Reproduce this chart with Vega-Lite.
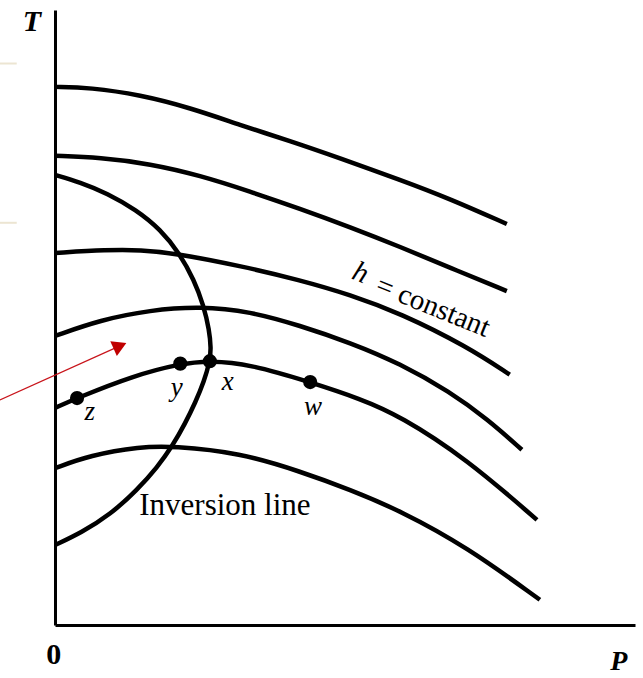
{
  "$schema": "https://vega.github.io/schema/vega-lite/v6.json",
  "width": 580,
  "height": 615,
  "autosize": {"type": "none"},
  "padding": {"left": 55, "top": 10, "right": 8, "bottom": 53},
  "background": "white",
  "config": {
    "view": {"stroke": null},
    "axis": {"domainColor": "black", "domainWidth": 3, "ticks": false, "labels": false, "grid": false, "title": null}
  },
  "datasets": {
    "isenthalps": [
      {"c": "h1", "i": 0, "P": 0, "T": 8.75}, {"c": "h1", "i": 1, "P": 0.6, "T": 8.74}, {"c": "h1", "i": 2, "P": 1.47, "T": 8.62},
      {"c": "h1", "i": 3, "P": 2.33, "T": 8.41}, {"c": "h1", "i": 4, "P": 3.19, "T": 8.13}, {"c": "h1", "i": 5, "P": 4.05, "T": 7.87},
      {"c": "h1", "i": 6, "P": 4.91, "T": 7.59}, {"c": "h1", "i": 7, "P": 5.95, "T": 7.24}, {"c": "h1", "i": 8, "P": 6.81, "T": 6.93},
      {"c": "h1", "i": 9, "P": 7.79, "T": 6.52},
      {"c": "h2", "i": 0, "P": 0, "T": 7.63}, {"c": "h2", "i": 1, "P": 0.78, "T": 7.6}, {"c": "h2", "i": 2, "P": 1.64, "T": 7.5},
      {"c": "h2", "i": 3, "P": 2.5, "T": 7.31}, {"c": "h2", "i": 4, "P": 3.36, "T": 7.05}, {"c": "h2", "i": 5, "P": 4.22, "T": 6.77},
      {"c": "h2", "i": 6, "P": 5.09, "T": 6.47}, {"c": "h2", "i": 7, "P": 5.95, "T": 6.15}, {"c": "h2", "i": 8, "P": 6.81, "T": 5.81},
      {"c": "h2", "i": 9, "P": 7.79, "T": 5.43},
      {"c": "h3", "i": 0, "P": 0, "T": 6.05}, {"c": "h3", "i": 1, "P": 0.9, "T": 6.1}, {"c": "h3", "i": 2, "P": 1.47, "T": 6.1},
      {"c": "h3", "i": 3, "P": 2.1, "T": 6.04}, {"c": "h3", "i": 4, "P": 3.19, "T": 5.84}, {"c": "h3", "i": 5, "P": 4.22, "T": 5.61},
      {"c": "h3", "i": 6, "P": 5.09, "T": 5.37}, {"c": "h3", "i": 7, "P": 5.95, "T": 5.07}, {"c": "h3", "i": 8, "P": 7.1, "T": 4.53},
      {"c": "h3", "i": 9, "P": 7.84, "T": 4.07},
      {"c": "h4", "i": 0, "P": 0, "T": 4.7}, {"c": "h4", "i": 1, "P": 0.78, "T": 4.96}, {"c": "h4", "i": 2, "P": 1.64, "T": 5.12},
      {"c": "h4", "i": 3, "P": 2.5, "T": 5.18}, {"c": "h4", "i": 4, "P": 3.36, "T": 5.1}, {"c": "h4", "i": 5, "P": 4.22, "T": 4.87},
      {"c": "h4", "i": 6, "P": 5.09, "T": 4.59}, {"c": "h4", "i": 7, "P": 5.95, "T": 4.25}, {"c": "h4", "i": 8, "P": 6.81, "T": 3.79},
      {"c": "h4", "i": 9, "P": 7.45, "T": 3.35}, {"c": "h4", "i": 10, "P": 8.05, "T": 2.85},
      {"c": "h5", "i": 0, "P": 0, "T": 3.53}, {"c": "h5", "i": 1, "P": 0.38, "T": 3.69}, {"c": "h5", "i": 2, "P": 1.34, "T": 4.05},
      {"c": "h5", "i": 3, "P": 2.16, "T": 4.25}, {"c": "h5", "i": 4, "P": 2.67, "T": 4.3}, {"c": "h5", "i": 5, "P": 3.36, "T": 4.24},
      {"c": "h5", "i": 6, "P": 4.4, "T": 3.95}, {"c": "h5", "i": 7, "P": 5.26, "T": 3.68}, {"c": "h5", "i": 8, "P": 5.95, "T": 3.4},
      {"c": "h5", "i": 9, "P": 7.1, "T": 2.7}, {"c": "h5", "i": 10, "P": 8.31, "T": 1.71},
      {"c": "h6", "i": 0, "P": 0, "T": 2.55}, {"c": "h6", "i": 1, "P": 0.6, "T": 2.76}, {"c": "h6", "i": 2, "P": 1.47, "T": 2.9},
      {"c": "h6", "i": 3, "P": 2.03, "T": 2.91}, {"c": "h6", "i": 4, "P": 3.19, "T": 2.8}, {"c": "h6", "i": 5, "P": 4.22, "T": 2.5},
      {"c": "h6", "i": 6, "P": 5.09, "T": 2.2}, {"c": "h6", "i": 7, "P": 5.95, "T": 1.86}, {"c": "h6", "i": 8, "P": 7.1, "T": 1.27},
      {"c": "h6", "i": 9, "P": 8.36, "T": 0.41}
    ],
    "inversion": [
      {"i": 0, "P": 0, "T": 7.32}, {"i": 1, "P": 0.43, "T": 7.2}, {"i": 2, "P": 0.9, "T": 7.02}, {"i": 3, "P": 1.4, "T": 6.75},
      {"i": 4, "P": 1.82, "T": 6.43}, {"i": 5, "P": 2.14, "T": 6.05}, {"i": 6, "P": 2.4, "T": 5.61}, {"i": 7, "P": 2.56, "T": 5.2},
      {"i": 8, "P": 2.66, "T": 4.8}, {"i": 9, "P": 2.69, "T": 4.5}, {"i": 10, "P": 2.67, "T": 4.29}, {"i": 11, "P": 2.57, "T": 3.96},
      {"i": 12, "P": 2.42, "T": 3.62}, {"i": 13, "P": 2.24, "T": 3.27}, {"i": 14, "P": 2.03, "T": 2.92}, {"i": 15, "P": 1.76, "T": 2.56},
      {"i": 16, "P": 1.42, "T": 2.2}, {"i": 17, "P": 0.96, "T": 1.8}, {"i": 18, "P": 0.45, "T": 1.5}, {"i": 19, "P": 0, "T": 1.3}
    ],
    "states": [
      {"name": "z", "P": 0.38, "T": 3.69, "lP": 0.6, "lT": 3.46},
      {"name": "y", "P": 2.16, "T": 4.25, "lP": 2.1, "lT": 3.85},
      {"name": "x", "P": 2.67, "T": 4.29, "lP": 2.98, "lT": 3.95},
      {"name": "w", "P": 4.4, "T": 3.95, "lP": 4.45, "lT": 3.55}
    ]
  },
  "encoding": {
    "x": {"field": "P", "type": "quantitative", "scale": {"domain": [0, 10], "nice": false, "zero": false}},
    "y": {"field": "T", "type": "quantitative", "scale": {"domain": [0, 10], "nice": false, "zero": false}}
  },
  "layer": [
    {
      "data": {"values": [{"P": -0.95, "P2": -0.66, "T": 9.13}, {"P": -0.95, "P2": -0.66, "T": 6.54}]},
      "mark": {"type": "rule", "color": "#ece5d2", "strokeWidth": 2, "clip": false},
      "encoding": {"x2": {"field": "P2"}}
    },
    {
      "data": {"name": "isenthalps"},
      "mark": {"type": "line", "color": "black", "strokeWidth": 4.5, "strokeCap": "butt", "interpolate": "basis"},
      "encoding": {
        "x": {"field": "P", "type": "quantitative", "axis": {"orient": "bottom"}},
        "y": {"field": "T", "type": "quantitative", "axis": {"orient": "left"}},
        "detail": {"field": "c"},
        "order": {"field": "i", "type": "quantitative"}
      }
    },
    {
      "data": {"name": "inversion"},
      "mark": {"type": "line", "color": "black", "strokeWidth": 4.5, "strokeCap": "butt", "interpolate": "basis"},
      "encoding": {"order": {"field": "i", "type": "quantitative"}}
    },
    {
      "data": {"name": "states"},
      "mark": {"type": "circle", "color": "black", "size": 200, "opacity": 1}
    },
    {
      "data": {"name": "states"},
      "mark": {"type": "text", "font": "Liberation Serif", "fontStyle": "italic", "fontSize": 27, "align": "center", "baseline": "middle"},
      "encoding": {
        "x": {"field": "lP", "type": "quantitative"},
        "y": {"field": "lT", "type": "quantitative"},
        "text": {"field": "name"}
      }
    },
    {
      "data": {"values": [{"P": -0.95, "T": 3.66}, {"P": 1.1, "T": 4.53}]},
      "mark": {"type": "line", "color": "#c8141b", "strokeWidth": 1.2, "clip": false},
      "encoding": {}
    },
    {
      "data": {"values": [{"P": 1.12, "T": 4.54}]},
      "mark": {"type": "point", "shape": "triangle-right", "filled": true, "color": "#c00000", "size": 260, "angle": -24, "opacity": 1}
    },
    {
      "data": {"values": [{"label": "h", "P": 5.27, "T": 5.73}]},
      "mark": {"type": "text", "font": "Liberation Serif", "fontStyle": "italic", "fontSize": 29, "angle": 22, "align": "center", "baseline": "middle"},
      "encoding": {"text": {"field": "label"}}
    },
    {
      "data": {"values": [{"label": "= constant", "P": 6.52, "T": 5.18}]},
      "mark": {"type": "text", "font": "Liberation Serif", "fontSize": 29, "angle": 22, "align": "center", "baseline": "middle"},
      "encoding": {"text": {"field": "label"}}
    },
    {
      "data": {"values": [{"label": "Inversion line", "P": 2.93, "T": 1.93}]},
      "mark": {"type": "text", "font": "Liberation Serif", "fontSize": 31, "align": "center", "baseline": "middle"},
      "encoding": {"text": {"field": "label"}}
    },
    {
      "data": {"values": [{"label": "T", "P": -0.4, "T": 9.8}]},
      "mark": {"type": "text", "font": "Liberation Serif", "fontStyle": "italic", "fontWeight": "bold", "fontSize": 30, "align": "center", "baseline": "middle", "clip": false},
      "encoding": {"text": {"field": "label"}}
    },
    {
      "data": {"values": [{"label": "P", "P": 9.72, "T": -0.6}]},
      "mark": {"type": "text", "font": "Liberation Serif", "fontStyle": "italic", "fontWeight": "bold", "fontSize": 28, "align": "center", "baseline": "middle", "clip": false},
      "encoding": {"text": {"field": "label"}}
    },
    {
      "data": {"values": [{"label": "0", "P": -0.02, "T": -0.49}]},
      "mark": {"type": "text", "font": "Liberation Serif", "fontWeight": "bold", "fontSize": 30, "align": "center", "baseline": "middle", "clip": false},
      "encoding": {"text": {"field": "label"}}
    }
  ]
}
